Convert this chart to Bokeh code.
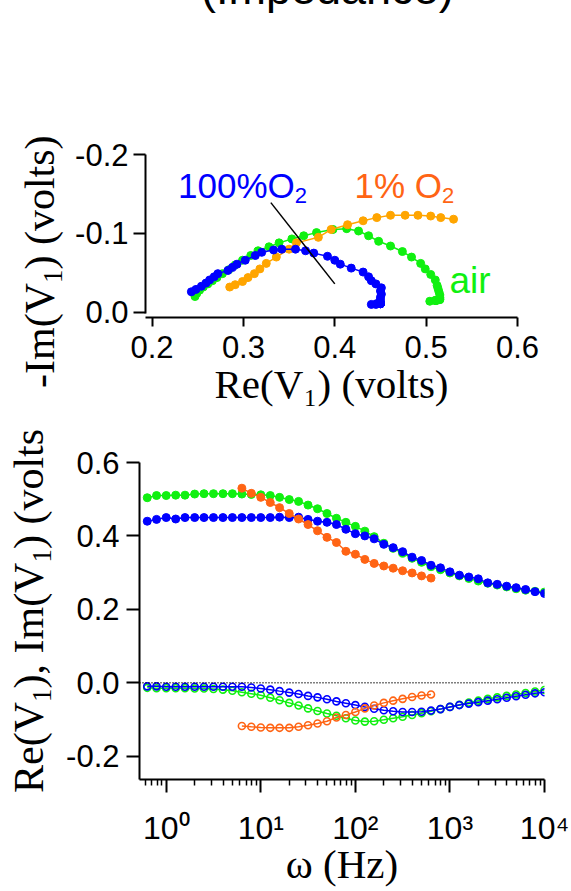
from bokeh.embed import file_html
from bokeh.layouts import column, row
from bokeh.models import (CustomJSTickFormatter, Div, FixedTicker, Label,
                          PrintfTickFormatter, Range1d, Span)
from bokeh.plotting import figure
from bokeh.resources import INLINE

# ---------------------------------------------------------------- data
# measurement frequencies (Hz), 10 points per decade
freq_hz = [0.63, 0.79, 1.0, 1.26, 1.58, 2.0, 2.51, 3.16, 3.98, 5.01,
           6.31, 7.94, 10.0, 12.6, 15.8, 20.0, 25.1, 31.6, 39.8, 50.1,
           63.1, 79.4, 100.0, 126.0, 158.0, 200.0, 251.0, 316.0, 398.0, 501.0,
           631.0, 794.0, 1000.0, 1259.0, 1585.0, 1995.0, 2512.0, 3162.0, 3981.0, 5012.0,
           6310.0, 7943.0, 10000.0]
freq_hz_1pct = [6.31, 7.94, 10.0, 12.6, 15.8, 20.0, 25.1, 31.6, 39.8, 50.1,
                63.1, 79.4, 100.0, 126.0, 158.0, 200.0, 251.0, 316.0, 398.0, 501.0,
                631.0]

# 100% O2
re_100 = [0.440, 0.445, 0.450, 0.446, 0.450, 0.450, 0.450, 0.450, 0.450, 0.450,
          0.450, 0.450, 0.450, 0.450, 0.451, 0.450, 0.451, 0.445, 0.440, 0.437,
          0.431, 0.418, 0.406, 0.400, 0.392, 0.377, 0.368, 0.357, 0.342, 0.333,
          0.320, 0.313, 0.302, 0.293, 0.288, 0.283, 0.272, 0.268, 0.263, 0.259,
          0.254, 0.248, 0.243]
im_100 = [-0.010, -0.010, -0.011, -0.011, -0.011, -0.011, -0.011, -0.011, -0.011, -0.011,
          -0.011, -0.013, -0.016, -0.019, -0.023, -0.027, -0.031, -0.036, -0.040, -0.045,
          -0.051, -0.056, -0.061, -0.066, -0.071, -0.075, -0.078, -0.080, -0.080, -0.079,
          -0.076, -0.072, -0.066, -0.061, -0.057, -0.053, -0.049, -0.045, -0.041, -0.037,
          -0.033, -0.029, -0.026]

# air
re_air = [0.504, 0.510, 0.510, 0.511, 0.511, 0.514, 0.515, 0.515, 0.515, 0.515,
          0.514, 0.513, 0.512, 0.510, 0.505, 0.499, 0.494, 0.484, 0.474, 0.461,
          0.448, 0.437, 0.426, 0.413, 0.398, 0.380, 0.366, 0.353, 0.339, 0.328,
          0.316, 0.308, 0.299, 0.291, 0.284, 0.277, 0.271, 0.266, 0.261, 0.256,
          0.252, 0.249, 0.247]
im_air = [-0.014, -0.015, -0.015, -0.015, -0.015, -0.016, -0.016, -0.017, -0.019, -0.022,
          -0.026, -0.030, -0.034, -0.041, -0.048, -0.055, -0.062, -0.070, -0.077, -0.084,
          -0.090, -0.097, -0.103, -0.106, -0.105, -0.101, -0.097, -0.093, -0.088, -0.083,
          -0.078, -0.072, -0.066, -0.060, -0.054, -0.049, -0.044, -0.040, -0.036, -0.032,
          -0.028, -0.024, -0.020]

# 1% O2
re_1pct = [0.530, 0.516, 0.505, 0.491, 0.477, 0.461, 0.446, 0.431, 0.414, 0.396,
           0.382, 0.358, 0.350, 0.336, 0.325, 0.318, 0.312, 0.305, 0.299, 0.291,
           0.285]
im_1pct = [-0.118, -0.120, -0.122, -0.123, -0.123, -0.123, -0.120, -0.116, -0.111, -0.105,
           -0.095, -0.088, -0.080, -0.070, -0.062, -0.055, -0.049, -0.044, -0.039, -0.035,
           -0.032]

# guide line across the Nyquist arcs
divider_re = [0.33, 0.40]
divider_im = [-0.139, -0.036]

nyq_x_ticks = [0.2, 0.3, 0.4, 0.5, 0.6]
nyq_y_ticks = [-0.2, -0.1, 0.0]
bode_y_ticks = [-0.2, 0.0, 0.2, 0.4, 0.6]
bode_decades = [1, 10, 100, 1000, 10000]

BLUE = "#0000FF"
GREEN = "#10F010"
ORANGE_NYQ = "#FFA500"
ORANGE = "#FF6414"

SANS = "Liberation Sans"
SERIF = "Liberation Serif"

# advance widths (em) for the characters used in composed labels
SANS_W = {" ": 0.278, "%": 0.889, "0": 0.556, "1": 0.556, "2": 0.556, "O": 0.778,
          "a": 0.556, "i": 0.222, "r": 0.333}


def style_axes(p, tick_out):
    for ax in p.axis:
        ax.axis_line_width = 2
        ax.axis_line_color = "black"
        ax.major_tick_line_width = 2
        ax.major_tick_line_color = "black"
        ax.major_tick_in = 0
        ax.major_tick_out = tick_out
        ax.minor_tick_line_color = None
        ax.major_label_text_font = SANS
        ax.major_label_text_font_size = "31px"
        ax.major_label_text_color = "black"
        ax.axis_label_text_font = SERIF
        ax.axis_label_text_font_style = "normal"
        ax.axis_label_text_color = "black"


def place_runs(p, to_data, x0, y0, runs, font, color):
    """Place text runs (text, size, baseline shift) from left to right."""
    pos = 0.0
    for text, size, shift in runs:
        x, y = to_data(x0 + pos, y0 + shift)
        p.add_layout(Label(x=x, y=y, text=text, text_font=font,
                           text_font_size=f"{size}px", text_color=color,
                           text_align="left", text_baseline="alphabetic"))
        pos += sum(SANS_W[c] for c in text) * size


def vertical_title(html, width, height, left, start):
    """Axis title reading upwards; `start` is where the text begins (from the top)."""
    return Div(
        text=('<div style="position:relative;width:%dpx;height:%dpx;overflow:hidden;">'
              '<span style="position:absolute;left:%.1fpx;top:%.1fpx;'
              'transform:rotate(-90deg);transform-origin:0 0;white-space:nowrap;'
              "font-family:'Liberation Serif';font-size:42px;line-height:42px;"
              'color:#000;">%s</span></div>') % (width, height, left, start, html),
        width=width, height=height,
        styles={"overflow": "hidden", "margin": "0", "padding": "0"})


SUB1 = '<span style="font-size:27px;vertical-align:-8px;line-height:0;">1</span>'

# ---------------------------------------------------------------- heading strip
HEAD_H = 14
heading = Div(
    text=('<div style="position:relative;width:571px;height:%dpx;overflow:hidden;">'
          '<span style="position:absolute;left:201px;top:-34px;'
          "font-family:'Liberation Sans';font-size:45px;line-height:45px;"
          'white-space:nowrap;color:#000;">(Impedance)</span></div>') % HEAD_H,
    width=571, height=HEAD_H, styles={"overflow": "hidden", "margin": "0", "padding": "0"})

# ---------------------------------------------------------------- Nyquist plot
N_OFF = HEAD_H
N_STRIP = 72
N_L, N_T, N_FW, N_FH, N_H = 145, 154 - N_OFF, 372, 163, 428 - N_OFF
N_X0, N_X1 = 0.1928, 0.6
N_YB, N_YT = 0.0066, -0.2

nyq = figure(frame_width=N_FW, frame_height=N_FH,
             min_border_left=N_L - N_STRIP, min_border_right=571 - N_L - N_FW,
             min_border_top=N_T, min_border_bottom=N_H - N_T - N_FH,
             x_range=Range1d(N_X0, N_X1), y_range=Range1d(N_YB, N_YT),
             output_backend="svg", toolbar_location=None,
             background_fill_color="white", border_fill_color="white")
nyq.outline_line_color = None
nyq.grid.visible = False
nyq.xaxis.ticker = FixedTicker(ticks=nyq_x_ticks)
nyq.yaxis.ticker = FixedTicker(ticks=nyq_y_ticks)
nyq.xaxis.formatter = PrintfTickFormatter(format="%.1f")
nyq.yaxis.formatter = PrintfTickFormatter(format="%.1f")
style_axes(nyq, 10)
nyq.xaxis.major_tick_out = 9
nyq.xaxis.major_label_standoff = 9
nyq.yaxis.major_tick_out = 12
nyq.yaxis.major_label_standoff = 5
nyq.yaxis.bounds = (-0.2, 0.0015)
nyq.xaxis.axis_label = "Re(V\u2081) (volts)"
nyq.xaxis.axis_label_text_font_size = "41px"
nyq.xaxis.axis_label_standoff = 0


def nyq_data(px, py_page):
    py = py_page - N_OFF
    return (N_X0 + (px - N_L) * (N_X1 - N_X0) / N_FW,
            N_YT + (py - N_T) * (N_YB - N_YT) / N_FH)


for re_v, im_v, col in [(re_air, im_air, GREEN), (re_1pct, im_1pct, ORANGE_NYQ),
                        (re_100, im_100, BLUE)]:
    nyq.line(re_v, im_v, line_color=col, line_width=1.5)
    nyq.scatter(re_v, im_v, marker="circle", size=8, fill_color=col,
                line_color=col, line_width=1)

nyq.line(divider_re, divider_im, line_color="black", line_width=1.5)

place_runs(nyq, nyq_data, 177.5, 185, [("100%O", 35, 0), ("2", 22, 10)], SANS, BLUE)
place_runs(nyq, nyq_data, 354, 185, [("1% O", 35, 0), ("2", 22, 10)], SANS, ORANGE)
place_runs(nyq, nyq_data, 449, 280, [("air", 37, 0)], SANS, GREEN)

nyq_ytitle = vertical_title("-Im(V%s) (volts)" % SUB1, N_STRIP, N_H,
                            left=19, start=388 - N_OFF)

# ---------------------------------------------------------------- Bode plot
B_OFF = 428
B_STRIP = 62
B_L, B_T, B_FW, B_FH, B_H = 139, 34, 405, 317, 891 - 428
B_LX0, B_LX1 = -0.2825, 4.0
B_YT, B_YB = 0.6, -0.2638

minor = [m * d for d in [0.1, 1, 10, 100, 1000] for m in range(2, 10)]

bode = figure(frame_width=B_FW, frame_height=B_FH,
              min_border_left=B_L - B_STRIP, min_border_right=571 - B_L - B_FW,
              min_border_top=B_T, min_border_bottom=B_H - B_T - B_FH,
              x_axis_type="log",
              x_range=Range1d(10 ** B_LX0, 10 ** B_LX1), y_range=Range1d(B_YB, B_YT),
              output_backend="svg", toolbar_location=None,
              background_fill_color="white", border_fill_color="white")
bode.outline_line_color = None
bode.grid.visible = False
bode.xaxis.ticker = FixedTicker(ticks=bode_decades, minor_ticks=minor)
bode.yaxis.ticker = FixedTicker(ticks=bode_y_ticks)
bode.yaxis.formatter = PrintfTickFormatter(format="%.1f")
bode.xaxis.formatter = CustomJSTickFormatter(code="""
    const sup = ["\u2070", "\u00b9", "\u00b2", "\u00b3", "\u2074", "\u2075"];
    return "10" + sup[Math.round(Math.log10(tick))];
""")
style_axes(bode, 13)
bode.yaxis.major_label_standoff = 7
bode.xaxis.major_label_text_font_size = "32px"
bode.xaxis.major_label_standoff = 17
bode.xaxis.minor_tick_line_color = "black"
bode.xaxis.minor_tick_line_width = 1.5
bode.xaxis.minor_tick_in = 0
bode.xaxis.minor_tick_out = 6
bode.xaxis.axis_label = "\u03c9 (Hz)"
bode.xaxis.axis_label_text_font_size = "41px"
bode.xaxis.axis_label_standoff = -8

bode.add_layout(Span(location=0, dimension="width", line_color="black",
                     line_dash="1 2", line_width=1.5))

for f, re_v, im_v, col in [(freq_hz, re_air, im_air, GREEN),
                           (freq_hz, re_100, im_100, BLUE),
                           (freq_hz_1pct, re_1pct, im_1pct, ORANGE)]:
    bode.line(f, re_v, line_color=col, line_width=1.5)
    bode.scatter(f, re_v, marker="circle", size=8, fill_color=col,
                 line_color=col, line_width=1)
    bode.line(f, im_v, line_color=col, line_width=1.5)
    bode.scatter(f, im_v, marker="circle", size=7, fill_color=None,
                 line_color=col, line_width=1.6)

bode_ytitle = vertical_title("Re(V%s), Im(V%s) (volts)" % (SUB1, SUB1), B_STRIP, B_H,
                             left=8, start=793 - B_OFF)

layout = column(heading,
                row(nyq_ytitle, nyq, spacing=0),
                row(bode_ytitle, bode, spacing=0),
                spacing=0)

with open("out.html", "w") as fh:
    fh.write(file_html(layout, INLINE))
